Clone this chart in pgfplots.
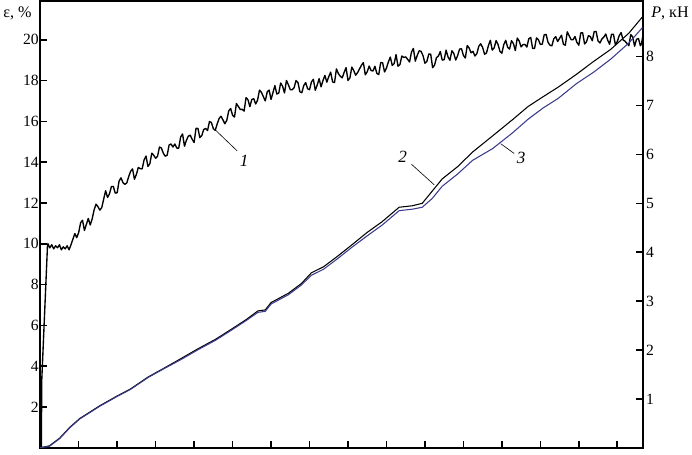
\documentclass[border=0pt]{standalone}
\usepackage{fontspec}
\setmainfont{Liberation Serif}
\usepackage{pgfplots}
\pgfplotsset{compat=1.18}
\definecolor{curvethree}{RGB}{58,58,140}

\begin{document}
\begin{tikzpicture}
\pgfplotsset{
  every axis/.append style={
    width=598pt, height=443.5pt, scale only axis,
    xmin=0, xmax=15.66,
    tick align=inside,
    major tick length=7pt,
    axis line style={line width=1.9pt},
    every tick/.style={line width=1.6pt, black},
    tick label style={font=\fontsize{15.5}{17}\selectfont},
    /pgf/number format/assume math mode=true,
  }
}
% strain, left axis
\begin{axis}[
  name=a,
  ymin=0, ymax=21.9,
  xtick={1,...,15}, xticklabels={}, xtick pos=bottom,
  ytick={2,4,...,20}, ytick pos=left,
  yticklabel style={xshift=2pt},
]
\addplot[black, line width=1.35pt, line join=round] coordinates {
 (0.03,0) (0.04,3.3) (0.19,9.95)
 (0.2,10.0) (0.25,9.8) (0.3,9.95) (0.35,9.75) (0.4,9.9) (0.45,9.8) (0.5,9.95)
 (0.55,9.7) (0.6,9.85) (0.65,9.75) (0.7,9.9) (0.75,9.7) (0.8,9.95)
 (0.9,10.5) (0.95,10.3) (1.0,10.55) (1.05,11.03) (1.1,11.15) (1.15,10.65)
 (1.2,10.95) (1.25,11.24) (1.3,10.92) (1.35,11.21) (1.4,11.65) (1.45,11.94)
 (1.5,11.82) (1.55,11.65) (1.6,11.77) (1.65,12.19) (1.7,12.6) (1.75,12.27)
 (1.8,12.44) (1.85,12.8) (1.9,12.81) (1.95,12.48) (2.0,12.5) (2.05,13.07)
 (2.1,13.23) (2.15,13.0) (2.2,12.91) (2.25,12.98) (2.3,13.29) (2.35,13.55)
 (2.4,13.67) (2.45,13.16) (2.5,13.4) (2.55,13.74) (2.6,13.68) (2.65,13.67)
 (2.7,14.11) (2.75,14.3) (2.8,13.79) (2.85,13.92) (2.9,14.44) (2.95,14.34)
 (3.0,14.19) (3.05,14.29) (3.1,14.74) (3.15,14.69) (3.2,14.44) (3.25,14.29)
 (3.3,14.34) (3.35,14.84) (3.4,14.89) (3.45,14.74) (3.5,14.89) (3.55,14.69)
 (3.6,14.68) (3.65,15.23) (3.7,15.38) (3.75,14.78) (3.8,15.07) (3.85,15.27)
 (3.9,15.32) (3.95,15.12) (4.0,14.96) (4.05,15.66) (4.1,15.65) (4.15,15.2)
 (4.2,15.3) (4.25,15.6) (4.3,15.65) (4.35,15.55) (4.4,15.99) (4.45,15.94)
 (4.5,15.64) (4.55,15.56) (4.6,15.87) (4.65,16.14) (4.7,16.25) (4.75,16.07)
 (4.8,15.88) (4.85,16.05) (4.9,16.51) (4.95,16.63) (5.0,16.3) (5.05,16.21)
 (5.1,16.87) (5.15,16.73) (5.2,16.58) (5.25,16.59) (5.3,16.5) (5.35,17.16)
 (5.4,17.06) (5.45,16.72) (5.5,17.07) (5.55,17.11) (5.6,16.85) (5.65,17.04)
 (5.7,17.53) (5.75,17.42) (5.8,17.21) (5.85,17.0) (5.9,17.44) (5.95,17.53)
 (6.0,17.07) (6.05,17.41) (6.1,17.75) (6.15,17.34) (6.2,17.38) (6.25,17.88)
 (6.3,17.72) (6.35,17.39) (6.4,18.0) (6.45,17.8) (6.5,17.55) (6.55,17.55)
 (6.6,17.65) (6.65,18.0) (6.7,17.9) (6.75,17.45) (6.8,17.4) (6.85,17.75)
 (6.9,17.9) (6.95,17.6) (7.0,17.55) (7.05,17.93) (7.1,18.06) (7.15,17.52)
 (7.2,17.78) (7.25,18.09) (7.3,17.69) (7.35,18.0) (7.4,18.25) (7.45,17.92)
 (7.5,18.19) (7.55,18.41) (7.6,17.93) (7.65,17.9) (7.7,18.57) (7.75,18.34)
 (7.8,18.21) (7.85,18.13) (7.9,18.4) (7.95,18.63) (8.0,18.0) (8.05,18.13)
 (8.1,18.66) (8.15,18.49) (8.2,18.26) (8.25,18.39) (8.3,18.57) (8.35,18.75)
 (8.4,18.88) (8.45,18.28) (8.5,18.43) (8.55,18.71) (8.6,18.49) (8.65,18.47)
 (8.7,18.7) (8.75,18.35) (8.8,18.29) (8.85,18.88) (8.9,18.87) (8.95,18.42)
 (9.0,18.61) (9.05,18.91) (9.1,19.15) (9.15,18.74) (9.2,18.83) (9.25,19.27)
 (9.3,18.7) (9.35,18.78) (9.4,19.2) (9.45,19.13) (9.5,19.16) (9.55,19.04)
 (9.6,18.91) (9.65,19.39) (9.7,19.57) (9.75,18.95) (9.8,19.23) (9.85,19.46)
 (9.9,19.43) (9.95,19.22) (10.0,18.85) (10.05,18.93) (10.1,19.3) (10.15,19.29)
 (10.2,18.63) (10.25,18.75) (10.3,19.12) (10.35,19.2) (10.4,19.42) (10.45,19.0)
 (10.5,19.02) (10.55,19.49) (10.6,19.16) (10.65,18.99) (10.7,19.46) (10.75,19.33)
 (10.8,19.0) (10.85,19.22) (10.9,19.54) (10.95,19.56) (11.0,19.23) (11.05,19.1)
 (11.1,19.72) (11.15,19.59) (11.2,19.36) (11.25,19.43) (11.3,19.2) (11.35,19.32)
 (11.4,19.68) (11.45,19.8) (11.5,19.62) (11.55,19.29) (11.6,19.35) (11.65,19.71)
 (11.7,19.97) (11.75,19.49) (11.8,19.6) (11.85,19.96) (11.9,19.77) (11.95,19.43)
 (12.0,19.34) (12.05,19.76) (12.1,19.97) (12.15,19.63) (12.2,19.54) (12.25,19.95)
 (12.3,19.81) (12.35,19.47) (12.4,20.08) (12.45,19.94) (12.5,19.65) (12.55,19.76)
 (12.6,19.77) (12.65,19.64) (12.7,20.05) (12.75,20.11) (12.8,19.57) (12.85,19.58)
 (12.9,20.09) (12.95,20.0) (13.0,19.77) (13.05,19.78) (13.1,20.24) (13.15,20.26)
 (13.2,19.87) (13.25,19.73) (13.3,19.7) (13.35,20.05) (13.4,20.15) (13.45,19.91)
 (13.5,20.07) (13.55,20.22) (13.6,19.78) (13.65,19.73) (13.7,20.39) (13.75,20.19)
 (13.8,20.0) (13.85,20.0) (13.9,20.16) (13.95,19.87) (14.0,19.73) (14.05,20.33)
 (14.1,20.34) (14.15,19.79) (14.2,19.9) (14.25,20.2) (14.3,20.15) (14.35,19.95)
 (14.4,20.4) (14.45,20.4) (14.5,19.94) (14.55,19.84) (14.6,20.04) (14.65,20.13)
 (14.7,20.28) (14.75,19.98) (14.8,19.78) (14.85,20.27) (14.9,20.27) (14.95,19.76)
 (15.0,19.91) (15.05,20.2) (15.1,20.35) (15.15,19.99) (15.2,19.93) (15.25,19.82)
 (15.3,19.71) (15.35,20.25) (15.4,20.14) (15.45,19.68) (15.5,20.02) (15.55,20.06)
 (15.6,19.71) (15.63,19.8) (15.66,20.15)
};
\draw[line width=0.6pt] (axis cs:4.54,15.6) -- (axis cs:5.12,14.55);
\node[font=\fontsize{17}{19}\selectfont\itshape] at (axis cs:5.3,14.05) {1};
\end{axis}
% load, right axis
\begin{axis}[
  ymin=0, ymax=9.14,
  hide x axis,
  axis y line*=right,
  ytick={1,...,8},
]
\addplot[black, line width=1.05pt, line join=round] coordinates {
 (0,0) (0.24,0.04) (0.51,0.2) (0.77,0.42) (1.03,0.6) (1.55,0.86) (2.0,1.06)
 (2.34,1.2) (2.81,1.45) (3.2,1.62) (3.65,1.82) (4.09,2.02) (4.56,2.22)
 (4.96,2.42) (5.35,2.62) (5.66,2.8) (5.85,2.82) (6.0,2.97) (6.45,3.16)
 (6.79,3.36) (7.05,3.58) (7.36,3.7) (7.7,3.9) (8.1,4.15) (8.49,4.4)
 (8.88,4.62) (9.33,4.92) (9.67,4.95) (9.93,5.0) (10.19,5.25) (10.45,5.5)
 (10.85,5.75) (11.24,6.05) (11.76,6.38) (12.29,6.72) (12.68,6.98) (13.07,7.18)
 (13.47,7.38) (13.94,7.64) (14.38,7.9) (14.83,8.15) (15.3,8.48) (15.66,8.82)
};
\addplot[curvethree, line width=1.05pt, line join=round] coordinates {
 (0,0) (0.24,0.03) (0.51,0.19) (0.77,0.41) (1.03,0.59) (1.55,0.85) (2.0,1.05)
 (2.34,1.19) (2.81,1.44) (3.2,1.61) (3.65,1.8) (4.09,2.0) (4.56,2.2)
 (4.96,2.4) (5.35,2.6) (5.66,2.77) (5.85,2.79) (6.0,2.94) (6.45,3.13)
 (6.79,3.33) (7.05,3.53) (7.36,3.65) (7.7,3.85) (8.1,4.1) (8.49,4.33)
 (8.88,4.55) (9.33,4.85) (9.67,4.88) (9.93,4.92) (10.19,5.1) (10.45,5.35)
 (10.85,5.6) (11.24,5.88) (11.76,6.12) (12.29,6.45) (12.68,6.72) (13.07,6.95)
 (13.47,7.15) (13.94,7.45) (14.38,7.68) (14.83,7.95) (15.3,8.28) (15.66,8.6)
};
\draw[line width=0.6pt] (axis cs:9.65,5.8) -- (axis cs:10.24,5.38);
\node[font=\fontsize{17}{19}\selectfont\itshape] at (axis cs:9.42,5.95) {2};
\draw[line width=0.6pt] (axis cs:12.32,6.02) -- (axis cs:11.97,6.22);
\node[font=\fontsize{17}{19}\selectfont\itshape] at (axis cs:12.5,5.93) {3};
\end{axis}
\node[anchor=north east, font=\fontsize{16}{18}\selectfont, xshift=-5pt, yshift=-2pt] at (a.north west) {ε, \%};
\node[anchor=north west, font=\fontsize{16}{18}\selectfont, xshift=5pt, yshift=-2pt] at (a.north east) {\textit{P}, кН};
\path (a.south west) ++(0,-3pt);
\end{tikzpicture}
\end{document}
